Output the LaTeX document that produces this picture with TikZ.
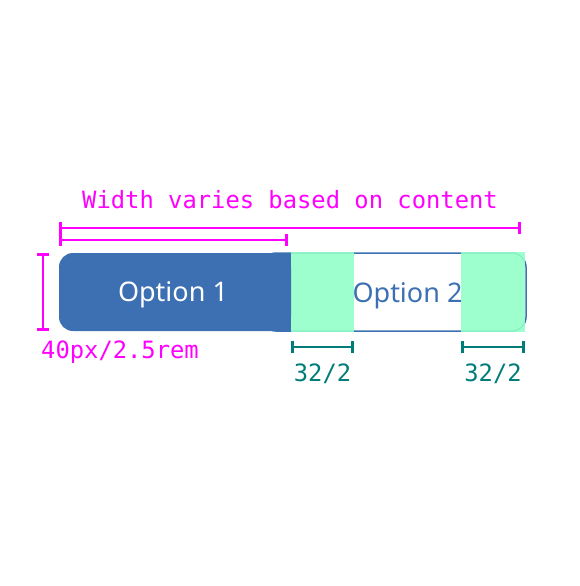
\documentclass[tikz,border=0pt]{standalone}
\usepackage{fontspec}
\setsansfont{Noto Sans}
\setmonofont{DejaVu Sans Mono}
\usetikzlibrary{arrows.meta,calc,positioning}
\definecolor{optblue}{HTML}{3D70B2}
\definecolor{padgreen}{HTML}{92FFC8}
\definecolor{dimteal}{HTML}{007D79}
\definecolor{dimpink}{HTML}{FF00FF}
\tikzstyle{dimpinkline} = [draw=dimpink, line width=2.8pt, {Bar[width=12pt,line width=2.8pt]}-{Bar[width=12pt,line width=2.8pt]}]
\tikzstyle{dimtealline} = [draw=dimteal, line width=2.8pt, {Bar[width=12pt,line width=2.8pt]}-{Bar[width=12pt,line width=2.8pt]}]
\tikzstyle{pinklabel} = [text=dimpink, font=\ttfamily\fontsize{23.8}{28}\selectfont, inner sep=0pt]
\tikzstyle{teallabel} = [text=dimteal, font=\ttfamily\fontsize{23.8}{28}\selectfont, inner sep=0pt]
\tikzstyle{optlabel} = [font=\sffamily\fontsize{27}{32}\selectfont, inner sep=0pt]
\tikzstyle{pad} = [fill=padgreen, fill opacity=0.9]

\begin{document}
\begin{tikzpicture}[x=1pt, y=-1pt]
    \useasboundingbox (0,0) rectangle (580,586);

    % Corners of the two options
    \coordinate (o1nw) at (59,253);
    \coordinate (o1se) at (291,331);
    \coordinate (o2nw) at (262,253);
    \coordinate (o2se) at (526,331);

    % Option 2 outline, then its padding areas
    \draw[optblue, line width=1.5pt, rounded corners=14pt] (o2nw) rectangle (o2se);
    \coordinate (padl1) at (291,252);
    \coordinate (padl2) at (354,332);
    \coordinate (padr1) at (461,252);
    \coordinate (padr2) at (525,332);
    \fill[pad] (padl1) rectangle (padl2);
    \fill[pad] (padr1) rectangle (padr2);

    % Option 1, selected
    \fill[optblue, rounded corners=14pt] (o1nw) rectangle (o1se);
    \fill[optblue] ($(o1nw)!0.5!(o1se |- o1nw)$) rectangle (o1se);

    % Labels
    \node[optlabel, text=white] (opt1) at ($(o1nw)!0.5!(o1se)+(-2,3)$) {Option 1};
    \node[optlabel, text=optblue] (opt2) at ($(padl2 |- opt1)!0.5!(padr1 |- opt1)+(0,1)$) {Option 2};

    % Width
    \node[pinklabel] (width) at (290,200) {Width varies based on content};
    \coordinate (wl1) at (59,228);
    \coordinate (wr1) at (521,228);
    \coordinate (wl2) at (59,240);
    \coordinate (wr2) at (288,240);
    \draw[dimpinkline] (wl1) -- (wr1);
    \draw[dimpinkline] (wl2) -- (wr2);

    % Height
    \coordinate (ht) at (43,253);
    \coordinate (hb) at (43,331);
    \draw[dimpinkline] (ht) -- (hb);
    \node[pinklabel, anchor=west] (height) at (41,352) {40px/2.5rem};

    % Padding
    \coordinate (pl1) at (291,347);
    \coordinate (pl2) at (354,347);
    \coordinate (pr1) at (461,347);
    \coordinate (pr2) at (525,347);
    \draw[dimtealline] (pl1) -- (pl2);
    \draw[dimtealline] (pr1) -- (pr2);
    \node[teallabel, below=17pt of $(pl1)!0.5!(pl2)$] (padleft) {32/2};
    \node[teallabel, below=17pt of $(pr1)!0.5!(pr2)$] (padright) {32/2};
\end{tikzpicture}
\end{document}
